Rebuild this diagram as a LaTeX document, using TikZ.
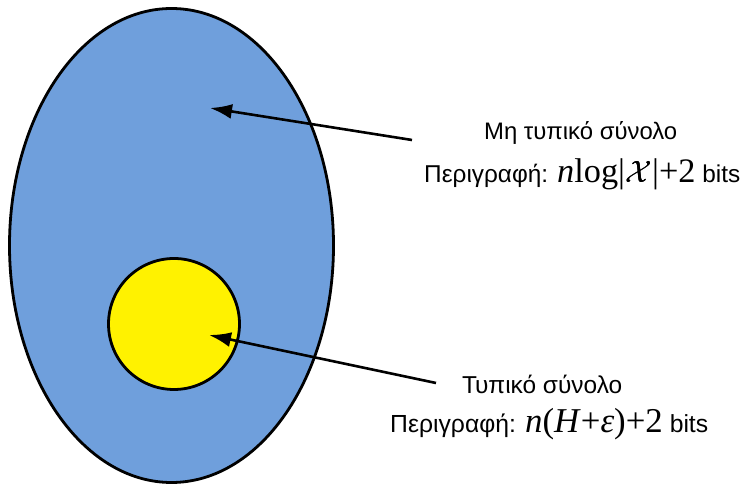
\documentclass[tikz,border=0pt]{standalone}
\usepackage{graphicx}
\usepackage{fontspec}
\setmainfont{Liberation Sans}
\newfontfamily\mserif{Liberation Serif}
\usetikzlibrary{arrows.meta,shapes.geometric}
\definecolor{setblue}{HTML}{6F9FDC}
\newcommand{\mth}[1]{{\mserif\fontsize{31}{31}\selectfont #1}}
\newcommand{\fitw}[2]{\resizebox{#1}{!}{#2}}
\newcommand{\boldcalX}{\scalebox{1.12}{\rlap{$\mathcal{X}$}\kern0.5pt$\mathcal{X}$}}
\tikzset{
  lbl/.style={font=\fontsize{22}{26}\selectfont, inner sep=0pt, anchor=base west},
  pointer/.style={line width=2.6pt, -{Latex[length=22pt,width=15pt]}},
  setline/.style={draw=black, line width=2.8pt, inner sep=0pt},
}
\begin{document}
\begin{tikzpicture}[x=1pt,y=1pt]
\useasboundingbox (0,0) rectangle (743,486);
\node[setline, fill=setblue, ellipse, minimum width=324pt, minimum height=474pt] (outer) at (171.5,240.5) {};
\node[setline, fill=yellow, circle, minimum size=131pt] (inner) at (174,162) {};
\node[lbl] (t1) at (484,346) {\fitw{193pt}{Μη τυπικό σύνολο}};
\node[lbl] (d1) at (424,303) {\fitw{316pt}{Περιγραφή: \mth{\textit{n}log|\boldcalX|+2} bits}};
\node[lbl] (t2) at (462,92) {\fitw{160pt}{Τυπικό σύνολο}};
\node[lbl] (d2) at (390,53) {\fitw{318pt}{Περιγραφή: \mth{\textit{n}(\textit{H}+\textit{ε})+2} bits}};
\coordinate (a1s) at (412,346);
\coordinate (a1e) at (210,378);
\coordinate (a2s) at (436,103);
\coordinate (a2e) at (209,151);
\draw[pointer] (a1s) -- (a1e);
\draw[pointer] (a2s) -- (a2e);
\end{tikzpicture}
\end{document}
